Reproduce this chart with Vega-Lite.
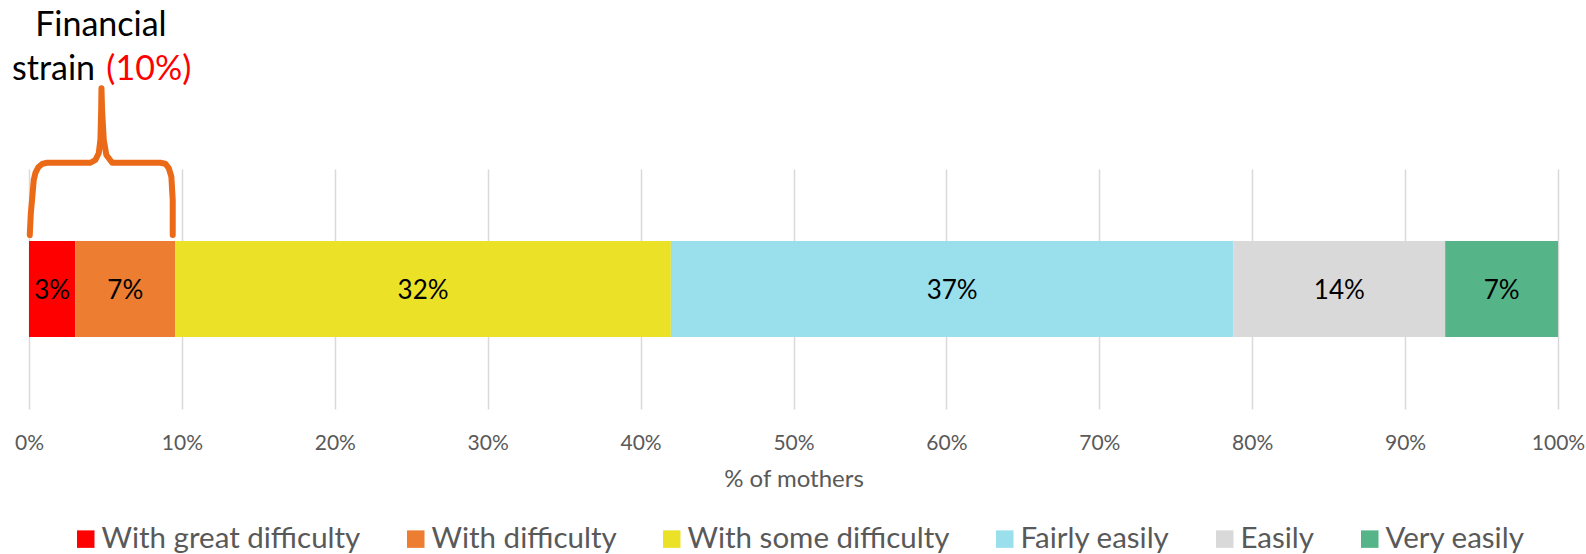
{
  "$schema": "https://vega.github.io/schema/vega-lite/v6.json",
  "width": 1529,
  "height": 240,
  "autosize": {"type": "none"},
  "padding": {"left": 29, "top": 169, "right": 28, "bottom": 145},
  "background": "white",
  "config": {"font": "Lato", "view": {"stroke": null}},
  "datasets": {
    "answers": [
      {"idx": 1, "answer": "With great difficulty", "share": 0.0303},
      {"idx": 2, "answer": "With difficulty", "share": 0.0654},
      {"idx": 3, "answer": "With some difficulty", "share": 0.3241},
      {"idx": 4, "answer": "Fairly easily", "share": 0.3680},
      {"idx": 5, "answer": "Easily", "share": 0.1384},
      {"idx": 6, "answer": "Very easily", "share": 0.0738}
    ],
    "brace": [
      {"step": 1, "share": 0.0005, "level": 0.450},
      {"step": 2, "share": 0.0012, "level": 0.633},
      {"step": 3, "share": 0.0020, "level": 0.742},
      {"step": 4, "share": 0.0031, "level": 0.908},
      {"step": 5, "share": 0.0042, "level": 0.967},
      {"step": 6, "share": 0.0062, "level": 1.017},
      {"step": 7, "share": 0.0086, "level": 1.042},
      {"step": 8, "share": 0.0118, "level": 1.052},
      {"step": 9, "share": 0.0402, "level": 1.052},
      {"step": 10, "share": 0.0434, "level": 1.075},
      {"step": 11, "share": 0.0456, "level": 1.131},
      {"step": 12, "share": 0.0467, "level": 1.242},
      {"step": 13, "share": 0.0472, "level": 1.492},
      {"step": 14, "share": 0.0474, "level": 1.673},
      {"step": 15, "share": 0.0478, "level": 1.492},
      {"step": 16, "share": 0.0489, "level": 1.242},
      {"step": 17, "share": 0.0506, "level": 1.117},
      {"step": 18, "share": 0.0544, "level": 1.052},
      {"step": 19, "share": 0.0859, "level": 1.052},
      {"step": 20, "share": 0.0892, "level": 1.044},
      {"step": 21, "share": 0.0914, "level": 1.008},
      {"step": 22, "share": 0.0931, "level": 0.936},
      {"step": 23, "share": 0.0940, "level": 0.742},
      {"step": 24, "share": 0.0940, "level": 0.450}
    ],
    "notes": [
      {"part": "head", "text": "Financial", "share": 0.0470, "level": 2.108},
      {"part": "word", "text": "strain", "share": -0.0111, "level": 1.742},
      {"part": "value", "text": "(10%)", "share": 0.0506, "level": 1.742}
    ]
  },
  "layer": [
    {
      "data": {"name": "answers"},
      "transform": [
        {"stack": "share", "groupby": [], "sort": [{"field": "idx", "order": "ascending"}], "as": ["x0", "x1"]}
      ],
      "mark": {"type": "rect"},
      "encoding": {
        "x": {
          "field": "x0",
          "type": "quantitative",
          "scale": {"domain": [0, 1], "nice": false},
          "axis": {
            "title": "% of mothers",
            "values": [0, 0.1, 0.2, 0.3, 0.4, 0.5, 0.6, 0.7, 0.8, 0.9, 1],
            "format": ".0%",
            "domain": false,
            "ticks": false,
            "grid": true,
            "gridColor": "#D9D9D9",
            "gridWidth": 1.5,
            "labelFlush": false,
            "labelColor": "#595959",
            "labelFontSize": 21,
            "labelPadding": 23,
            "labelFont": "Lato",
            "titleColor": "#595959",
            "titleFontSize": 24,
            "titleFontWeight": "normal",
            "titleFont": "Lato",
            "titlePadding": 14
          }
        },
        "x2": {"field": "x1"},
        "y": {"datum": -0.4, "type": "quantitative", "scale": {"domain": [-1, 1], "nice": false, "zero": false}, "axis": null},
        "y2": {"datum": 0.4},
        "color": {
          "field": "answer",
          "type": "nominal",
          "scale": {
            "domain": ["With great difficulty", "With difficulty", "With some difficulty", "Fairly easily", "Easily", "Very easily"],
            "range": ["#FF0000", "#ED7D31", "#EBE228", "#99DFEC", "#D9D9D9", "#55B589"]
          },
          "legend": {
            "orient": "none",
            "legendX": 42,
            "legendY": 355,
            "direction": "horizontal",
            "columns": 6,
            "title": null,
            "symbolType": "square",
            "symbolSize": 306,
            "symbolStrokeWidth": 0,
            "labelFontSize": 29.5,
            "labelColor": "#595959",
            "labelFont": "Lato",
            "labelOffset": 1,
            "labelLimit": 500,
            "columnPadding": 40,
            "padding": 0
          }
        }
      }
    },
    {
      "data": {"name": "answers"},
      "transform": [
        {"stack": "share", "groupby": [], "sort": [{"field": "idx", "order": "ascending"}], "as": ["x0", "x1"]},
        {"fold": ["x0", "x1"], "as": ["edge", "pos"]},
        {"aggregate": [{"op": "mean", "field": "pos", "as": "mid"}], "groupby": ["answer", "share"]}
      ],
      "mark": {"type": "text", "fontSize": 26, "color": "#000000", "baseline": "middle", "align": "center"},
      "encoding": {
        "x": {"field": "mid", "type": "quantitative"},
        "y": {"datum": -0.02, "type": "quantitative"},
        "text": {"field": "share", "type": "quantitative", "format": ".0%"}
      }
    },
    {
      "data": {"name": "brace"},
      "mark": {"type": "line", "color": "#EB6A18", "strokeWidth": 6, "strokeCap": "round", "strokeJoin": "round"},
      "encoding": {
        "x": {"field": "share", "type": "quantitative"},
        "y": {"field": "level", "type": "quantitative"},
        "order": {"field": "step", "type": "quantitative"}
      }
    },
    {
      "data": {"name": "notes"},
      "transform": [{"filter": "datum.part === 'head'"}],
      "mark": {"type": "text", "fontSize": 34, "color": "#000000", "align": "center", "baseline": "alphabetic"},
      "encoding": {
        "x": {"field": "share", "type": "quantitative"},
        "y": {"field": "level", "type": "quantitative"},
        "text": {"field": "text"}
      }
    },
    {
      "data": {"name": "notes"},
      "transform": [{"filter": "datum.part === 'word'"}],
      "mark": {"type": "text", "fontSize": 34, "color": "#000000", "align": "left", "baseline": "alphabetic"},
      "encoding": {
        "x": {"field": "share", "type": "quantitative"},
        "y": {"field": "level", "type": "quantitative"},
        "text": {"field": "text"}
      }
    },
    {
      "data": {"name": "notes"},
      "transform": [{"filter": "datum.part === 'value'"}],
      "mark": {"type": "text", "fontSize": 34, "color": "#FF0000", "align": "left", "baseline": "alphabetic"},
      "encoding": {
        "x": {"field": "share", "type": "quantitative"},
        "y": {"field": "level", "type": "quantitative"},
        "text": {"field": "text"}
      }
    }
  ]
}
